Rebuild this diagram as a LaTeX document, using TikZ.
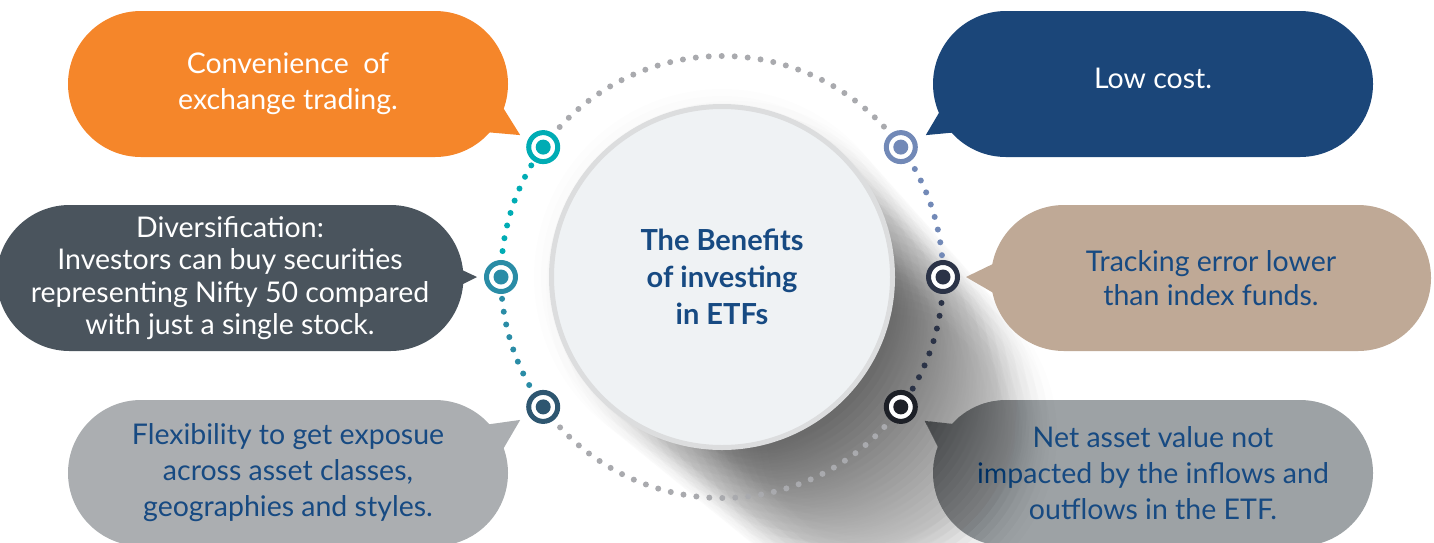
\documentclass[tikz,border=0pt]{standalone}
\usepackage{fontspec}
\setmainfont{Lato}
\usepackage{tikz}
\usetikzlibrary{shapes,calc}

\definecolor{cOrange}{HTML}{F5862A}
\definecolor{cNavy}{HTML}{1B4679}
\definecolor{cSlate}{HTML}{4A545D}
\definecolor{cTan}{HTML}{BFA996}
\definecolor{cLgray}{HTML}{ABAEB1}
\definecolor{cMgray}{HTML}{9DA2A5}
\definecolor{cText}{HTML}{174A82}
\definecolor{cDots}{HTML}{A9AAAE}
\definecolor{cTeal}{HTML}{00ACB4}
\definecolor{cSea}{HTML}{2A8CA6}
\definecolor{cSteel}{HTML}{2E5670}
\definecolor{cLav}{HTML}{7289B7}
\definecolor{cInk}{HTML}{2B3347}
\definecolor{cBlack}{HTML}{1D2027}
\definecolor{cHub}{HTML}{EFF2F4}
\definecolor{cRim}{HTML}{DCDDDE}

\tikzset{
  bubble/.style={rounded rectangle, fill=#1, minimum width=440pt, minimum height=146pt,
    inner sep=0pt, align=center, font=\fontsize{28.5}{36}\selectfont},
  target/.style={circle, draw=#1, fill=white, line width=5pt, minimum size=29pt, inner sep=0pt,
    path picture={\fill[#1] (path picture bounding box.center) circle (7.5pt);}},
  dotline/.style={draw=#1, line width=6pt, line cap=round, dash pattern=on 0pt off 13pt},
}

\begin{document}
\begin{tikzpicture}[x=1pt, y=-1pt]
  \useasboundingbox (0,0) rectangle (1434,542);

  \coordinate (mid) at (722,277);
  \coordinate (pconv) at ($(mid)+(216:221)$);
  \coordinate (plow) at ($(mid)+(324:221)$);
  \coordinate (pdiv) at ($(mid)+(180:221)$);
  \coordinate (ptrack) at ($(mid)+(0:221)$);
  \coordinate (pflex) at ($(mid)+(144:221)$);
  \coordinate (pnav) at ($(mid)+(36:221)$);

  % bottom right bubble sits under the shadow
  \node[bubble=cMgray, text=cText] (nav) at (1153,473) {Net asset value not\\impacted by the inflows and\\outflows in the ETF.};
  \fill[cMgray] ($(nav)+(-190,-48)$) -- ($(pnav)+(24,14)$) -- ($(nav)+(-212,-20)$) -- cycle;

  % shadow of the hub, soft edges by stacking
  \foreach \k in {0,...,15}
    \foreach \j in {0,...,7}
      \fill[black, opacity=0.009] ($(mid)+(\k*11,\k*10.5)$) circle ({188-\k*1.2-\j*7});

  \node[bubble=cOrange, text=white] (conv) at (288,84) {Convenience~ of\\exchange trading.};
  \fill[cOrange] ($(conv)+(214,22)$) -- ($(pconv)+(-23,-12)$) -- ($(conv)+(197,48)$) -- cycle;

  \node[bubble=cNavy, text=white] (low) at (1153,84) {\raisebox{6pt}[\height][\depth]{Low cost.}};
  \fill[cNavy] ($(low)+(-210,22)$) -- ($(plow)+(25,-12)$) -- ($(low)+(-194,48)$) -- cycle;

  \node[bubble=cSlate, text=white, font=\fontsize{28.5}{32.5}\selectfont] (div) at (230,278)
    {Diversification:\\Investors can buy securities\\representing Nifty 50 compared\\with just a single stock.};
  \fill[cSlate] ($(div)+(215,-16)$) -- ($(pdiv)+(-24,0)$) -- ($(div)+(215,15)$) -- cycle;

  \node[bubble=cTan, text=cText, font=\fontsize{28.5}{34}\selectfont] (track) at (1211,278) {Tracking error lower\\than index funds.};
  \fill[cTan] ($(track)+(-214,-16)$) -- ($(ptrack)+(23,0)$) -- ($(track)+(-214,17)$) -- cycle;

  \node[bubble=cLgray, text=cText] (flex) at (288,473) {Flexibility to get exposue\\across asset classes,\\geographies and styles.};
  \fill[cLgray] ($(flex)+(196,-48)$) -- ($(pflex)+(-23,13)$) -- ($(flex)+(214,-22)$) -- cycle;

  % dotted ring
  \draw[dotline=cDots] (pconv) arc[start angle=216, end angle=324, radius=221];
  \draw[dotline=cLav] (plow) arc[start angle=324, end angle=360, radius=221];
  \draw[dotline=cInk] (ptrack) arc[start angle=0, end angle=36, radius=221];
  \draw[dotline=cDots] (pnav) arc[start angle=36, end angle=144, radius=221];
  \draw[dotline=cSea] (pflex) arc[start angle=144, end angle=180, radius=221];
  \draw[dotline=cTeal] (pdiv) arc[start angle=180, end angle=216, radius=221];

  \node[target=cTeal] (tconv) at (pconv) {};
  \node[target=cLav] (tlow) at (plow) {};
  \node[target=cSea] (tdiv) at (pdiv) {};
  \node[target=cInk] (ttrack) at (ptrack) {};
  \node[target=cSteel] (tflex) at (pflex) {};
  \node[target=cBlack] (tnav) at (pnav) {};

  \node[circle, fill=cHub, draw=cRim, line width=5pt, minimum size=341pt, text=cText,
    align=center, font=\bfseries\fontsize{29}{37}\selectfont] (hub) at (mid)
    {The Benefits\\of investing\\in ETFs};
\end{tikzpicture}
\end{document}
